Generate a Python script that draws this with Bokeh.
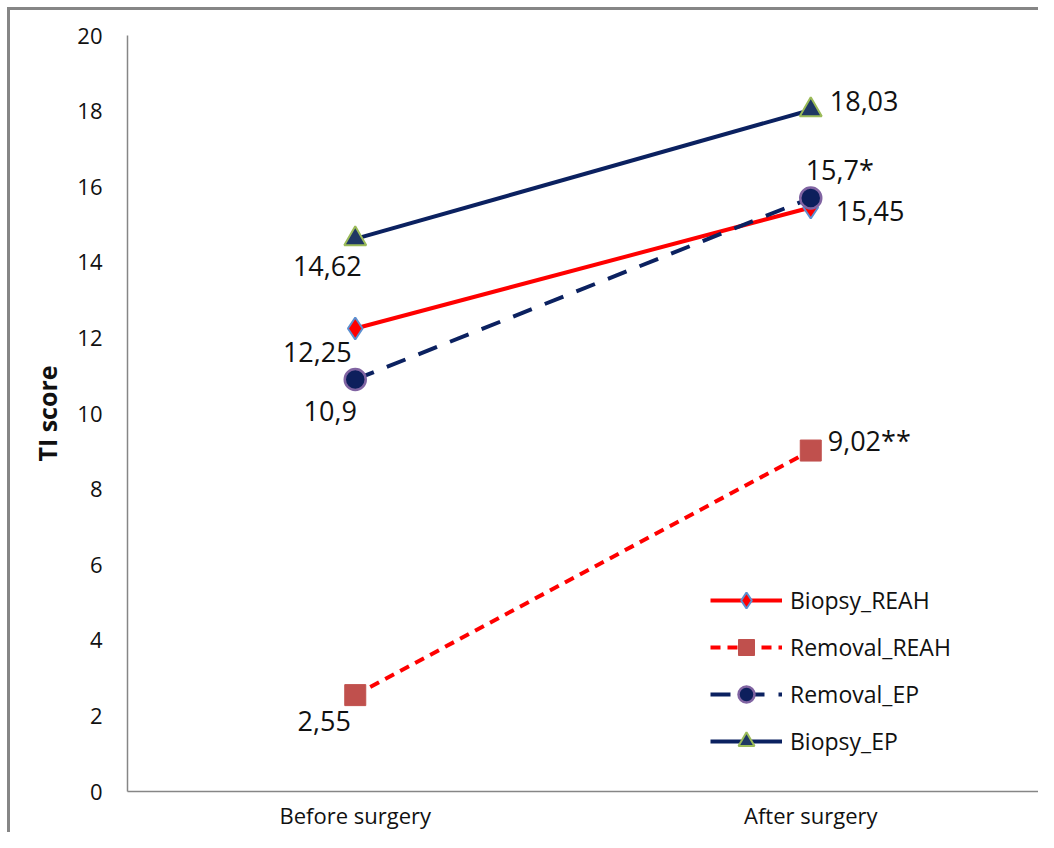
from bokeh.plotting import figure
from bokeh.models import FactorRange, Range1d, Legend, LegendItem, FixedTicker
from bokeh.embed import file_html
from bokeh.resources import INLINE
from bokeh.core.properties import value

categories = ["Before surgery", "After surgery"]
biopsy_reah = [12.25, 15.45]
removal_reah = [2.55, 9.02]
removal_ep = [10.9, 15.7]
biopsy_ep = [14.62, 18.03]

biopsy_reah_labels = ["12,25", "15,45"]
removal_reah_labels = ["2,55", "9,02**"]
removal_ep_labels = ["10,9", "15,7*"]
biopsy_ep_labels = ["14,62", "18,03"]

y_ticks = [0, 2, 4, 6, 8, 10, 12, 14, 16, 18, 20]

FONT = "Open Sans"
GRAY = "#868686"

p = figure(width=1038, height=832, output_backend="svg", toolbar_location=None,
           x_range=FactorRange(*categories, range_padding=0),
           y_range=Range1d(0, 20),
           min_border_left=127, min_border_right=0, min_border_top=35, min_border_bottom=30)
p.title = None
p.styles = {
    "background": (
        f"linear-gradient(to bottom, transparent 7px, {GRAY} 7px, {GRAY} 10px, transparent 10px) 7px 0 / 100% 100% no-repeat, "
        f"linear-gradient(to right, transparent 7px, {GRAY} 7px, {GRAY} 10px, transparent 10px) 0 7px / 100% 100% no-repeat, "
        "white"
    ),
}
p.outline_line_color = None
p.xgrid.grid_line_color = None
p.ygrid.grid_line_color = None
p.background_fill_color = "white"
p.border_fill_color = None

p.yaxis.ticker = FixedTicker(ticks=y_ticks)
p.yaxis.major_tick_line_color = None
p.yaxis.minor_tick_line_color = None
p.yaxis.axis_line_color = "#868686"
p.yaxis.axis_line_width = 1.5
p.yaxis.major_label_text_font = FONT
p.yaxis.major_label_text_font_size = "22px"
p.yaxis.major_label_text_color = "#111111"
p.yaxis.major_label_standoff = 19
p.yaxis.axis_label = "TI score"
p.yaxis.axis_label_text_font = FONT
p.yaxis.axis_label_text_font_size = "25px"
p.yaxis.axis_label_text_font_style = "bold"
p.yaxis.axis_label_text_color = "#111111"
p.yaxis.axis_label_standoff = 10

p.xaxis.major_tick_line_color = None
p.xaxis.minor_tick_line_color = None
p.xaxis.axis_line_color = "#868686"
p.xaxis.axis_line_width = 1.5
p.xaxis.major_label_text_font = FONT
p.xaxis.major_label_text_font_size = "22px"
p.xaxis.major_label_text_color = "#111111"
p.xaxis.major_label_standoff = 2

navy = "#0b2160"

l1 = p.line(categories, biopsy_reah, line_color="#ff0000", line_width=4)
m1 = p.scatter(categories, biopsy_reah, marker="diamond", size=22, fill_color="#ff0000",
               line_color="#5b8fd0", line_width=2)
l2 = p.line(categories, removal_reah, line_color="#ff0000", line_width=4, line_dash="10 7")
m2 = p.scatter(categories, removal_reah, marker="square", size=21, fill_color="#c0504d",
               line_color="#c0504d", line_width=1)
l3 = p.line(categories, removal_ep, line_color=navy, line_width=4, line_dash="20 14")
m3 = p.scatter(categories, removal_ep, marker="circle", size=21, fill_color="#0d1f5c",
               line_color="#8064a2", line_width=2.5)
l4 = p.line(categories, biopsy_ep, line_color=navy, line_width=4)
m4 = p.scatter(categories, biopsy_ep, marker="triangle", size=22, fill_color="#1f3864",
               line_color="#9bbb59", line_width=2)

lab_font = value(FONT)
lab_size = "27px"
lab_kw = dict(text_baseline="middle", text_font=lab_font, text_font_size=lab_size, text_color="#111111")

# Before-surgery labels (centered, below-left of points)
p.text([categories[0]], [biopsy_ep[0]], text=[biopsy_ep_labels[0]], x_offset=-28, y_offset=27,
       text_align="center", **lab_kw)
p.text([categories[0]], [biopsy_reah[0]], text=[biopsy_reah_labels[0]], x_offset=-38, y_offset=24,
       text_align="center", **lab_kw)
p.text([categories[0]], [removal_ep[0]], text=[removal_ep_labels[0]], x_offset=-25, y_offset=32,
       text_align="center", **lab_kw)
p.text([categories[0]], [removal_reah[0]], text=[removal_reah_labels[0]], x_offset=-31, y_offset=26,
       text_align="center", **lab_kw)

# After-surgery labels
p.text([categories[1]], [biopsy_ep[1]], text=[biopsy_ep_labels[1]], x_offset=19, y_offset=-9,
       text_align="left", **lab_kw)
p.text([categories[1]], [removal_ep[1]], text=[removal_ep_labels[1]], x_offset=29, y_offset=-29,
       text_align="center", **lab_kw)
p.text([categories[1]], [biopsy_reah[1]], text=[biopsy_reah_labels[1]], x_offset=25, y_offset=4,
       text_align="left", **lab_kw)
p.text([categories[1]], [removal_reah[1]], text=[removal_reah_labels[1]], x_offset=17, y_offset=-10,
       text_align="left", **lab_kw)

legend = Legend(items=[
    LegendItem(label="Biopsy_REAH", renderers=[l1, m1]),
    LegendItem(label="Removal_REAH", renderers=[l2, m2]),
    LegendItem(label="Removal_EP", renderers=[l3, m3]),
    LegendItem(label="Biopsy_EP", renderers=[l4, m4]),
], location=(583, 30))
legend.border_line_color = None
legend.background_fill_alpha = 0
legend.padding = 0
legend.margin = 0
legend.glyph_width = 72
legend.glyph_height = 40
legend.label_height = 40
legend.spacing = 7
legend.label_standoff = 8
legend.label_text_font = FONT
legend.label_text_font_size = "23px"
legend.label_text_color = "#111111"
p.add_layout(legend, "center")

open("out.html", "w").write(file_html(p, INLINE))
